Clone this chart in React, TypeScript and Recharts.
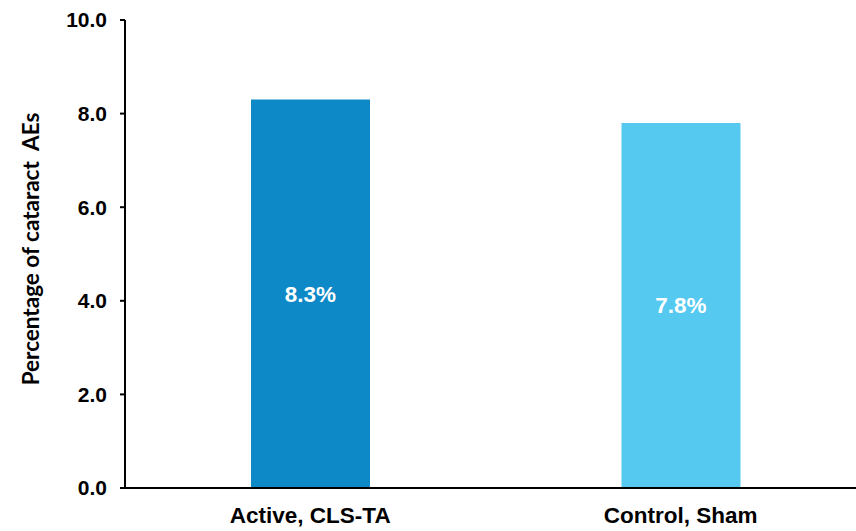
import React from 'react';
import { BarChart, Bar, XAxis, YAxis, Cell, LabelList } from 'recharts';

// Cataract adverse events by treatment arm
const categories = ['Active, CLS-TA', 'Control, Sham'];
const percentages = [8.3, 7.8];
const barColors = ['#0E89C7', '#56C9F1'];
const yTicks = [0, 2, 4, 6, 8, 10];
const yTitle = 'Percentage of cataract  AEs';

const data = categories.map((name, i) => ({ name, value: percentages[i] }));

const FONT = '"Liberation Sans", Arial, sans-serif';
const TITLE_X = 30;
const TITLE_Y = 249;

const YTitle = () => (
  <text
    x={TITLE_X}
    y={TITLE_Y}
    transform={`rotate(-90, ${TITLE_X}, ${TITLE_Y})`}
    textAnchor="middle"
    dominantBaseline="central"
    fontFamily="Lato, 'Open Sans', sans-serif"
    fontWeight={700}
    fontSize={22.5}
    fill="#000"
    style={{ whiteSpace: 'pre' }}
  >
    {yTitle}
  </text>
);

export default function App() {
  return (
    <div style={{ position: 'absolute', left: 0, top: 0, width: 856, height: 531, overflow: 'hidden', background: '#fff' }}>
      <BarChart
        width={866}
        height={531}
        data={data}
        margin={{ top: 20, right: 0, bottom: 0, left: 0 }}
        barCategoryGap={0}
      >
        <XAxis
          dataKey="name"
          height={43}
          axisLine={{ stroke: '#000', strokeWidth: 2 }}
          tickLine={false}
          tickSize={0}
          tickMargin={19}
          tick={{ fill: '#000', fontFamily: FONT, fontWeight: 700, fontSize: 22.5 }}
          interval={0}
        />
        <YAxis
          width={125}
          domain={[0, 10]}
          ticks={yTicks}
          allowDataOverflow
          tickFormatter={(v: number) => v.toFixed(1)}
          axisLine={{ stroke: '#000', strokeWidth: 2 }}
          tickLine={{ stroke: '#000', strokeWidth: 2 }}
          tickSize={5}
          tickMargin={13}
          tick={{ fill: '#000', fontFamily: FONT, fontWeight: 700, fontSize: 21 }}
          label={<YTitle />}
        />
        <Bar dataKey="value" barSize={119} isAnimationActive={false}>
          {data.map((d, i) => (
            <Cell key={d.name} fill={barColors[i]} />
          ))}
          <LabelList
            dataKey="value"
            position="center"
            formatter={(v: number) => `${v.toFixed(1)}%`}
            fill="#fff"
            style={{ fontFamily: FONT, fontWeight: 700, fontSize: 22.5 }}
          />
        </Bar>
      </BarChart>
    </div>
  );
}
